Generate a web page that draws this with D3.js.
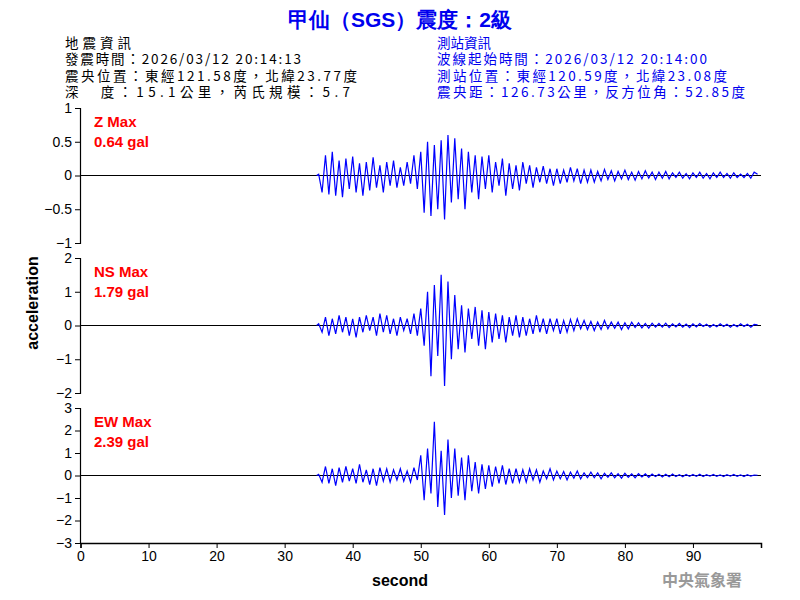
<!DOCTYPE html>
<html><head><meta charset="utf-8">
<script src="https://cdn.jsdelivr.net/npm/d3@7"></script>
<style>body{margin:0;background:#fff}svg{font-family:Arial,"Liberation Sans",sans-serif}</style>
</head><body><svg id="c" width="800" height="600"></svg>
<script>
const startTime = 35, step = 0.5;
const zValues = [0.02,-0.25,0.3,-0.28,0.35,-0.3,0.22,-0.32,0.25,-0.2,
0.28,-0.25,0.18,-0.3,0.2,-0.22,0.27,-0.18,0.15,-0.25,
0.2,-0.15,0.22,-0.18,0.12,-0.15,0.2,-0.12,0.3,-0.2,
0.35,-0.55,0.5,-0.6,0.45,-0.5,0.52,-0.65,0.6,-0.4,
0.55,-0.35,0.4,-0.5,0.35,-0.25,0.3,-0.35,0.28,-0.2,
0.3,-0.25,0.2,-0.15,0.25,-0.3,0.18,-0.2,0.15,-0.22,
0.2,-0.12,0.15,-0.18,0.12,-0.1,0.14,-0.12,0.1,-0.15,
0.1,-0.12,0.08,-0.1,0.12,-0.08,0.1,-0.12,0.08,-0.1,
0.08,-0.1,0.06,-0.08,0.09,-0.06,0.07,-0.08,0.06,-0.05,
0.08,-0.06,0.05,-0.07,0.06,-0.05,0.07,-0.04,0.05,-0.06,
0.05,-0.04,0.06,-0.05,0.04,-0.03,0.05,-0.04,0.03,-0.05,
0.04,-0.03,0.05,-0.04,0.03,-0.05,0.04,-0.03,0.05,-0.03,
0.03,-0.04,0.04,-0.03,0.02,-0.03,0.03,-0.04,0.05,0.02];
const nsValues = [0.05,-0.2,0.25,-0.3,0.2,-0.25,0.3,-0.2,0.25,-0.3,
0.2,-0.35,0.25,-0.2,0.3,-0.15,0.25,-0.3,0.35,-0.2,
0.3,-0.25,0.2,-0.3,0.25,-0.15,0.2,-0.25,0.35,-0.3,
0.5,-0.6,1.0,-1.5,1.2,-0.9,1.5,-1.79,1.3,-1.0,
0.9,-0.7,0.6,-0.8,0.5,-0.4,0.55,-0.6,0.45,-0.7,
0.4,-0.5,0.35,-0.4,0.3,-0.5,0.25,-0.3,0.3,-0.35,
0.25,-0.3,0.2,-0.25,0.3,-0.2,0.2,-0.25,0.2,-0.15,
0.2,-0.25,0.15,-0.2,0.18,-0.15,0.2,-0.1,0.15,-0.12,
0.12,-0.15,0.1,-0.12,0.15,-0.1,0.1,-0.08,0.1,-0.12,
0.08,-0.1,0.1,-0.06,0.08,-0.07,0.06,-0.08,0.07,-0.05,
0.06,-0.05,0.07,-0.06,0.05,-0.04,0.06,-0.05,0.04,-0.06,
0.05,-0.04,0.06,-0.03,0.04,-0.05,0.03,-0.04,0.05,-0.03,
0.04,-0.05,0.03,-0.04,0.05,-0.03,0.04,-0.05,0.03,0.02];
const ewValues = [0.05,-0.3,0.4,-0.35,0.3,-0.45,0.35,-0.3,0.4,-0.25,
0.3,-0.35,0.5,-0.3,0.25,-0.4,0.3,-0.45,0.35,-0.25,
0.3,-0.3,0.25,-0.2,0.3,-0.25,0.2,-0.3,0.35,-0.2,
0.9,-1.1,1.2,-0.8,2.39,-1.4,1.1,-1.75,1.6,-1.0,
1.2,-0.9,0.8,-1.1,0.9,-0.7,0.6,-0.8,0.5,-0.6,
0.45,-0.5,0.4,-0.35,0.45,-0.4,0.3,-0.35,0.3,-0.3,
0.25,-0.3,0.3,-0.2,0.25,-0.3,0.2,-0.15,0.3,-0.2,
0.2,-0.15,0.18,-0.2,0.15,-0.12,0.2,-0.15,0.12,-0.1,
0.15,-0.1,0.12,-0.15,0.1,-0.08,0.12,-0.1,0.08,-0.12,
0.1,-0.08,0.07,-0.1,0.08,-0.06,0.07,-0.08,0.06,-0.05,
0.06,-0.07,0.05,-0.06,0.07,-0.05,0.04,-0.06,0.05,-0.04,
0.05,-0.04,0.06,-0.05,0.04,-0.03,0.05,-0.04,0.03,-0.05,
0.04,-0.03,0.05,-0.04,0.03,-0.05,0.04,-0.03,0.02,0.01];
const componentNames = ["Z Max","NS Max","EW Max"];
const maxLabels = ["0.64 gal","1.79 gal","2.39 gal"];
const yLimits = [1,2,3];
const yTicks = [[1,0.5,0,-0.5,-1],[2,1,0,-1,-2],[3,2,1,0,-1,-2,-3]];
const xTicks = [0,10,20,30,40,50,60,70,80,90];
const titleText = "甲仙（SGS）震度：2級";
const leftInfo = ["地震資訊","發震時間：2026/03/12 20:14:13","震央位置：東經121.58度，北緯23.77度","深　度：15.1公里，芮氏規模：5.7"];
const rightInfo = ["測站資訊","波線起始時間：2026/03/12 20:14:00","測站位置：東經120.59度，北緯23.08度","震央距：126.73公里，反方位角：52.85度"];
const leftWidths = [66,236,292,285];
const rightWidths = [54,270,290,308];

const svg = d3.select("#c");
const x = d3.scaleLinear().domain([0,100]).range([80.5,761]);
const panels = [[108,243],[258,393],[408,543]];
const series = [zValues,nsValues,ewValues];

svg.append("text").attr("x",400).attr("y",27).attr("text-anchor","middle")
 .attr("fill","#0000ee").attr("font-size",21).attr("font-weight","bold").text(titleText);
const cjk = "'Noto Sans CJK TC',sans-serif";
leftInfo.forEach((t,i)=>svg.append("text").attr("x",65).attr("y",48+i*16.3).attr("font-size",13.5).attr("font-family",cjk).attr("fill","#000")
  .attr("textLength",leftWidths[i]).attr("lengthAdjust","spacing").text(t));
rightInfo.forEach((t,i)=>svg.append("text").attr("x",437).attr("y",48+i*16.3).attr("font-size",13.5).attr("font-family",cjk).attr("fill","#0000ee")
  .attr("textLength",rightWidths[i]).attr("lengthAdjust","spacing").text(t));

series.forEach((vals,k)=>{
  const [top,bot] = panels[k];
  const y = d3.scaleLinear().domain([-yLimits[k],yLimits[k]]).range([bot,top]);
  const g = svg.append("g");
  g.append("g").attr("transform","translate(80,0)")
   .call(d3.axisLeft(y).tickValues(yTicks[k]).tickSize(5).tickFormat(d3.format("")))
   .call(a=>{a.selectAll("text").attr("font-size",14).attr("fill","#000");a.select(".domain").attr("stroke-width",1.2);});
  g.append("line").attr("x1",x(0)).attr("x2",x(100)).attr("y1",y(0)).attr("y2",y(0)).attr("stroke","#000").attr("stroke-width",1);
  const pts = [[startTime-0.3,0]].concat(vals.map((v,i)=>[startTime+i*step,v]));
  const line = d3.line().x(d=>x(d[0])).y(d=>y(d[1]));
  g.append("path").attr("d",line(pts)).attr("fill","none").attr("stroke","#0000ff").attr("stroke-width",1.2);
  g.append("text").attr("x",94).attr("y",top+19).attr("fill","#ff0000").attr("font-size",15).attr("font-weight","bold").text(componentNames[k]);
  g.append("text").attr("x",94).attr("y",top+39).attr("fill","#ff0000").attr("font-size",15).attr("font-weight","bold").text(maxLabels[k]);
});

svg.append("g").attr("transform","translate(0,543)")
 .call(d3.axisBottom(x).tickValues(xTicks).tickSize(5).tickFormat(d3.format("d")))
 .call(a=>{a.selectAll("text").attr("font-size",14).attr("fill","#000");a.select(".domain").attr("stroke-width",1.5);});
svg.append("text").attr("x",400).attr("y",586).attr("text-anchor","middle").attr("font-size",16).attr("font-weight","bold").text("second");
svg.append("text").attr("transform","translate(38,303) rotate(-90)").attr("text-anchor","middle").attr("font-size",16).attr("font-weight","bold").text("acceleration");
svg.append("text").attr("x",702).attr("y",586).attr("text-anchor","middle").attr("font-size",16).attr("font-weight","bold").attr("fill","#999").attr("font-family",cjk).text("中央氣象署");
</script></body></html>
